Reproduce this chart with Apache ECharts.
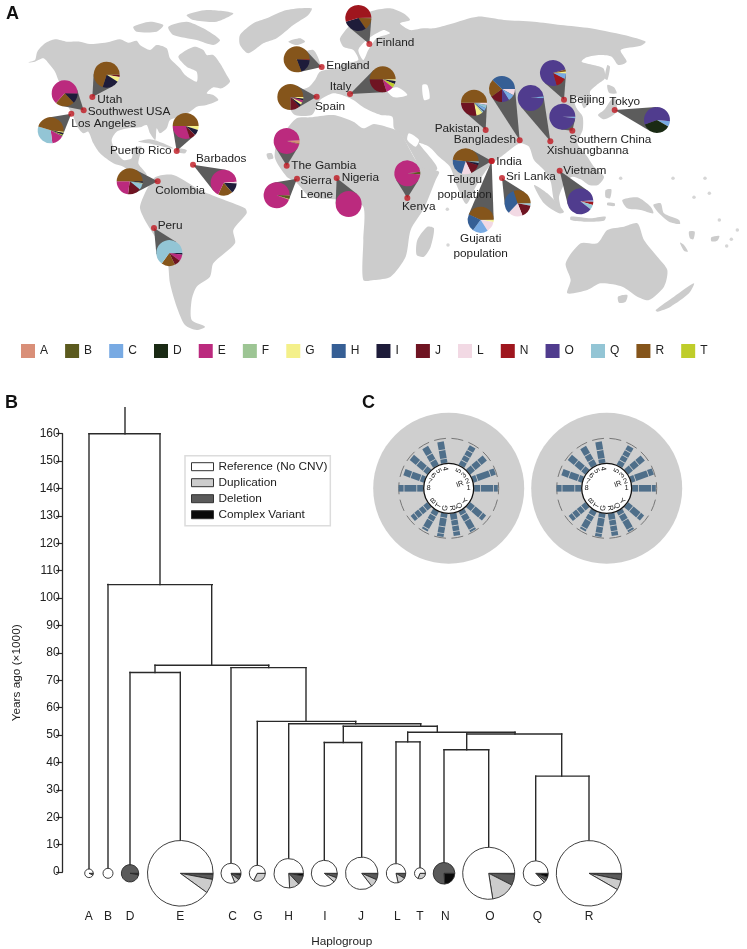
<!DOCTYPE html>
<html><head><meta charset="utf-8">
<style>html,body{margin:0;padding:0;background:#fff}#c{width:747px;height:949px}</style>
<script src="https://cdn.jsdelivr.net/npm/echarts@6/dist/echarts.min.js"></script>
</head><body><div id="c"></div>
<script>
// ---------- haplogroups ----------
const haplogroups = ['A','B','C','D','E','F','G','H','I','J','L','N','O','Q','R','T'];
const haploColors = ['#d98f78','#5b5a1e','#78aae3','#1a2a14','#bb2a7e','#9dc594','#f4f08a','#365f95','#1e1c3a','#6f1422','#f2d9e4','#9f161e','#503c8e','#93c5d5','#85551b','#bfcd2a'];

// ---------- panel A: population haplogroup shares (%), in drawn order ----------
const utah = [['J',3],['G',6],['I',21],['R',70]];
const southwestUsa = [['I',12.5],['R',24],['E',63.5]];
const losAngeles = [['G',2],['I',2],['T',1.5],['I',1],['E',15],['Q',32],['R',46.5]];
const puertoRico = [['G',5],['I',7],['J',8],['E',30],['R',50]];
const barbados = [['I',13],['R',18],['E',67],['L',2]];
const colombia = [['I',2],['G',1],['Q',8],['J',16],['E',23],['R',50]];
const peru = [['I',2],['E',8],['J',8],['R',17],['Q',65]];
const england = [['N',1],['I',18],['R',81]];
const finland = [['J',1],['R',15],['I',30],['N',54]];
const spain = [['G',2],['I',2],['E',3],['G',3],['I',3],['J',12],['R',75]];
const italy = [['G',2],['I',4],['T',5],['E',9],['J',30],['R',50]];
const gambia = [['A',4],['R',1],['E',95]];
const sierraLeone = [['A',1],['B',4],['G',1],['E',94]];
const nigeria = [['E',100]];
const kenya = [['B',3.5],['E',96.5]];
const pakistan = [['L',3],['Q',4],['C',4],['I',1],['Q',2],['G',8],['J',28],['R',50]];
const bangladesh = [['L',8],['C',8],['O',9],['J',15],['R',22],['H',38]];
const xishuangbanna = [['C',2.5],['O',97.5]];
const beijing = [['G',2.5],['C',7],['N',13],['O',75],['R',2.5]];
const southernChina = [['C',2],['O',98]];
const tokyo = [['C',7],['D',36],['O',57]];
const telugu = [['Q',2],['I',3],['J',13],['L',12],['H',22],['R',48]];
const gujarati = [['T',1],['G',2],['L',13],['C',19],['H',22],['R',43]];
const sriLanka = [['Q',3],['J',16],['L',18],['H',33],['R',30]];
const vietnam = [['C',2],['N',4],['Q',6],['O',88]];

// ---------- panel A: layout in map units (3 units = 1 px) ----------
const places = [
 {t:'Utah',d:[277,291],p:[320,224],l:[292,298],s:0,v:utah},
 {t:'Southwest USA',d:[251,331],p:[194,280],l:[263,335],s:1,v:southwestUsa},
 {t:'Los Angeles',d:[214,341],p:[152,391],l:[214,372],s:5,v:losAngeles},
 {t:'Puerto Rico',d:[530,453],p:[557,378],l:[330,451],s:0,v:puertoRico},
 {t:'Barbados',d:[579,494],p:[671,548],l:[588,475],s:3,v:barbados},
 {t:'Colombia',d:[473,544],p:[389,544],l:[466,573],s:0,v:colombia},
 {t:'Peru',d:[462,684],p:[508,759],l:[473,677],s:0,v:peru},
 {t:'England',d:[965,201],p:[890,178],l:[979,198],s:0,v:england},
 {t:'Finland',d:[1108,132],p:[1075,54],l:[1127,128],s:-2,v:finland},
 {t:'Spain',d:[950,290],p:[871,291],l:[945,320],s:0,v:spain},
 {t:'Italy',d:[1050,282],p:[1148,238],l:[989,260],s:0,v:italy},
 {t:'The Gambia',d:[860,497],p:[860,423],l:[874,496],s:-3,v:gambia},
 {t:'Sierra\nLeone',d:[891,536],p:[830,586],l:[901,563],s:-2,v:sierraLeone},
 {t:'Nigeria',d:[1010,534],p:[1046,612],l:[1025,533],s:0,v:nigeria},
 {t:'Kenya',d:[1222,594],p:[1222,520],l:[1206,620],s:-7,v:kenya},
 {t:'Pakistan',d:[1457,390],p:[1422,308],l:[1304,386],s:0,v:pakistan},
 {t:'Bangladesh',d:[1559,421],p:[1506,267],l:[1361,420],s:0,v:bangladesh},
 {t:'Xishuangbanna',d:[1651,424],p:[1592,294],l:[1640,452],s:-8,v:xishuangbanna},
 {t:'Beijing',d:[1692,299],p:[1659,219],l:[1708,298],s:-7,v:beijing},
 {t:'Southern China',d:[1717,392],p:[1687,350],l:[1708,418],s:0,v:southernChina},
 {t:'Tokyo',d:[1844,330],p:[1971,360],l:[1828,305],s:5,v:tokyo},
 {t:'India',d:[1475,483],p:[1397,484],l:[1489,484],s:0,v:telugu},
 {t:'',d:[1475,483],p:[1442,659],l:[0,0],s:0,v:gujarati},
 {t:'Sri Lanka',d:[1506,534],p:[1553,610],l:[1518,531],s:0,v:sriLanka},
 {t:'Vietnam',d:[1679,512],p:[1741,604],l:[1690,513],s:-5,v:vietnam}
];
const extraLabels = [
 {t:'Telugu\npopulation',l:[1394,562],c:1},
 {t:'Gujarati\npopulation',l:[1442,739],c:1}
];
const pieRadiusPx = 13;

// ---------- panel A: hand traced land, map units ----------
const z2 = pts => pts.map(q => [q[0]+1122, q[1]]);
const land = [
 // North America
 [[85,187],[105,180],[112,155],[135,130],[165,118],[200,125],[240,125],[270,132],[300,130],[330,125],[360,118],[385,128],[410,122],[420,135],[450,150],[470,135],[500,145],[510,175],[540,205],[555,225],[590,245],[590,215],[560,200],[535,170],[560,150],[585,140],[610,150],[620,165],[640,165],[660,190],[680,225],[690,245],[665,265],[640,262],[620,280],[640,285],[655,300],[620,315],[590,320],[570,335],[540,350],[510,360],[500,385],[480,400],[470,385],[466,420],[450,400],[440,375],[420,382],[385,385],[350,395],[335,420],[345,450],[370,480],[395,475],[400,445],[425,440],[415,490],[430,510],[440,525],[420,540],[395,520],[370,500],[340,490],[300,460],[280,430],[265,395],[250,400],[235,385],[220,350],[205,320],[195,285],[175,240],[165,215],[150,195],[130,175],[105,185]],
 // South America
 [[465,532],[520,525],[600,570],[660,595],[735,625],[740,640],[700,690],[705,730],[640,790],[630,830],[590,860],[575,900],[575,960],[615,980],[590,990],[555,975],[530,920],[510,850],[500,770],[440,670],[420,625],[430,590]],
 // Greenland and the Arctic islands
 [[720,105],[760,70],[800,55],[860,30],[935,25],[925,45],[880,75],[830,115],[790,130],[745,160],[720,135]],
 [[400,80],[450,65],[490,75],[470,95],[410,95]],
 [[505,80],[560,65],[610,85],[660,120],[640,135],[590,120],[520,105]],
 [[560,45],[620,30],[700,40],[650,65],[580,60]],
 // Caribbean, Iceland, Britain
 [[415,425],[450,418],[490,430],[520,445],[490,440],[445,430]],
 [[530,445],[560,450],[555,460],[530,455]],
 [[865,125],[900,115],[915,125],[890,135]],
 [[900,165],[940,150],[960,195],[925,205]],
 [[800,462],[815,460],[820,475],[805,478]],
 // Eurasia
 [[885,345],[868,320],[875,280],[925,262],[945,240],[960,215],[1005,205],[1040,190],[1075,180],[1060,150],[1030,140],[1020,115],[1060,65],[1110,35],[1170,25],[1210,40],[1230,60],[1200,70],[1230,90],[1270,85]].concat(z2([[180,85],[230,72],[310,50],[390,60],[480,65],[560,75],[650,85],[770,110],[815,125],[800,137],[740,150],[758,185],[733,195],[713,170],[678,165],[638,172],[623,185],[658,195],[688,205],[693,235],[668,255],[648,275],[650,300],[630,325],[616,295],[598,290],[608,325],[626,350],[626,390],[610,430],[640,470],[660,500],[690,530],[672,555],[645,555],[620,538],[595,530],[575,545],[555,590],[560,625],[540,600],[530,545],[510,510],[480,480],[465,440],[437,430],[395,460],[345,500],[305,560],[277,612],[250,560],[228,500],[195,470],[165,440],[135,430],[190,505],[145,530],[125,480],[85,410],[60,385],[55,350],[20,345]])).concat([[1095,325],[1060,300],[1040,290],[1000,280],[960,300],[950,320],[935,345]]),
 // Africa
 [[930,352],[1000,345],[1060,365],[1090,385],[1122,372]].concat(z2([[60,388],[80,400],[125,480],[150,505],[195,515],[185,540],[150,625],[110,690],[95,770],[50,830],[0,840]])).concat([[1090,840],[1090,720],[1090,620],[1040,600],[1010,598],[930,590],[890,548],[860,530],[825,475],[830,430],[850,400],[890,355]]),
 // Indian ocean, Asia pacific, Oceania
 z2([[160,680],[180,685],[170,740],[150,770],[128,765],[130,720]]),
 z2([[480,555],[520,580],[570,635],[555,640],[510,610]]),
 z2([[590,650],[650,655],[695,650],[690,662],[630,665],[590,660]]),
 z2([[695,570],[712,568],[708,595],[695,592]]),
 z2([[700,608],[722,610],[722,618],[700,616]]),
 z2([[745,600],[790,592],[830,620],[838,640],[800,630],[760,625]]),
 z2([[838,615],[860,610],[870,640],[915,660],[918,672],[885,665],[855,640]]),
 z2([[700,255],[720,262],[728,280],[705,278]]),
 z2([[720,290],[728,335],[690,358],[672,345],[690,330]]),
 z2([[700,195],[708,200],[700,240],[692,235]]),
 z2([[575,790],[620,730],[670,730],[700,690],[750,680],[790,670],[810,720],[850,770],[880,810],[870,860],[825,900],[790,890],[745,860],[680,850],[640,870],[580,880],[590,840]]),
 z2([[732,890],[760,885],[755,905],[735,908]]),
 z2([[845,930],[900,890],[960,850],[945,880],[890,920],[850,935]]),
 z2([[945,695],[962,695],[958,718],[948,715]]),
 z2([[1012,712],[1036,708],[1030,722],[1012,724]]),
 z2([[918,728],[930,735],[942,755],[930,752]])
];
const islandDots = z2([[740,535],[897,535],[993,535],[960,592],[1006,580],[1036,660],[1090,690],[1072,718],[1058,738],[220,628],[222,735]]);
const seas = [
 z2([[145,255],[160,255],[167,295],[150,300]]),
 z2([[105,400],[135,420],[125,440],[100,420]]),
 z2([[40,272],[70,262],[100,285],[60,292]]),
 [[1075,150],[1100,120],[1150,90],[1170,100],[1130,115],[1105,150],[1090,180]]
];

// ---------- panel B: tree ----------
const tipNames = ['A','B','D','E','C','G','H','I','J','L','T','N','O','Q','R'];
const tipX = [89,108,130,180.3,231,257.3,288.7,324.3,361.7,396,420,444,488.7,535.7,589];
const tipLabelX = [88.7,108,130,180.3,232.7,258,288.7,325,361,397.3,420,445.3,490,537.3,589];
const tipParentAge = [160,105,72.8,72.8,74.6,55,54.1,47.3,47.3,47.5,47.5,44.6,44.6,35,35];
const tipRadius = [4.3,5,8.7,32.8,10,8,14.7,13,16.2,9.7,5.5,10.8,26,12.5,32.7];
const cnvKinds = ['Complex Variant','Deletion','Duplication','Reference (No CNV)'];
const cnvLegendOrder = ['Reference (No CNV)','Duplication','Deletion','Complex Variant'];
const cnvColors = ['#0a0a0a','#5a5a5a','#cccccc','#ffffff'];
const cnvA = [0,2,5,93];
const cnvB = [0,0,0,100];
const cnvD = [3,97,0,0];
const cnvE = [0.5,2.5,7,90];
const cnvC = [3,8,8,81];
const cnvG = [0,0.5,32,67.5];
const cnvH = [3,10,11,76];
const cnvI = [0.5,5,6,88.5];
const cnvJ = [0.5,6,8,85.5];
const cnvL = [0.5,8,13,78.5];
const cnvT = [0,1,30,69];
const cnvN = [24,76,0,0];
const cnvO = [0.5,7,15,77.5];
const cnvQ = [5,5,3,87];
const cnvR = [0.3,3,5,91.7];
const tipCnv = [cnvA,cnvB,cnvD,cnvE,cnvC,cnvG,cnvH,cnvI,cnvJ,cnvL,cnvT,cnvN,cnvO,cnvQ,cnvR];
const cladeAge =   [160,104.9,75.5,72.8,74.6,55,54.1,53.2,47.3,51,47.5,44.6,50.4,35];
const cladeLeft =  [89,107.7,155,130,231,257.3,288.7,343.3,324.3,407.7,396,444,466.7,535.7];
const cladeRight = [160,212.3,268.7,180.3,306,355.7,420.7,437.3,361.7,515,420,488.7,561.7,589];
const cladeStem =  [125,160,211.7,155,268.7,306,355.7,420.7,343.3,437.3,407.7,466.7,515,561.7];
const cladeParent = [169.5,160,104.9,75.5,75.5,74.6,55,54.1,53.2,53.2,51,50.4,51,50.4];
const yTicks = {min:0,max:160,step:10};

// ---------- panel C: gene copy rings ----------
const ringAngles = [0,340,320,300,260,240,220,200,180,140,120,100,80,60,40];
const ringLabels = ['1','2','3','5','4','5','6','7','8','B','T','G','R','Q','Y'];
const ringSegments = [[6,12,4],[4,13,5],[6,7,7],[5,5,5,5],[4,8,8],[6,6,8],[5,8,8],[4,9,7],[6,12,5],[5,5,5,4],[5,5,8,2],[4,8,6,3],[6,5,5,4],[4,6,9,2],[6,9,4]];
const ringArcCentres = [0,20,40,60,80,100,120,140,160,180,200,220,240,260,280,300,320,340];

// ---------- helpers ----------
const colorOf = n => haploColors[haplogroups.indexOf(n)];
const FONT = '"Liberation Sans",Arial,sans-serif';
const INK = '#222';
const pieBase = {type:'pie',silent:true,animation:false,label:{show:false},labelLine:{show:false},emphasis:{disabled:true},z:3};

const series = [];
const mapGrid = {xAxisIndex:0,yAxisIndex:0};
function polyItem(pts,api,fill){
  return {type:'polygon',shape:{points:pts.map(q=>api.coord(q)),smooth:0.25},style:{fill:fill,stroke:null}};
}
series.push(Object.assign({type:'custom',coordinateSystem:'cartesian2d',silent:true,animation:false,z:1,clip:false,
  data:land.map((_,i)=>[i,0]),renderItem:(p,api)=>polyItem(land[p.dataIndex],api,'#cccccc')},mapGrid));
series.push(Object.assign({type:'custom',coordinateSystem:'cartesian2d',silent:true,animation:false,z:1,clip:false,
  data:seas.map((_,i)=>[i,0]),renderItem:(p,api)=>polyItem(seas[p.dataIndex],api,'#ffffff')},mapGrid));
series.push(Object.assign({type:'scatter',silent:true,animation:false,z:1,symbolSize:3.5,itemStyle:{color:'#cccccc'},data:islandDots},mapGrid));
// wedges
series.push(Object.assign({type:'custom',coordinateSystem:'cartesian2d',silent:true,animation:false,z:2,clip:false,
  data:places.map((_,i)=>[i,0]),
  renderItem:(p,api)=>{
    const c=places[p.dataIndex],D=api.coord(c.d),C=api.coord(c.p);
    const dx=C[0]-D[0],dy=C[1]-D[1],dist=Math.hypot(dx,dy),base=Math.atan2(dy,dx),a=Math.asin(Math.min(1,pieRadiusPx/dist));
    const t=Math.sqrt(Math.max(0,dist*dist-pieRadiusPx*pieRadiusPx));
    return {type:'polygon',shape:{points:[D,[D[0]+t*Math.cos(base+a),D[1]+t*Math.sin(base+a)],C,[D[0]+t*Math.cos(base-a),D[1]+t*Math.sin(base-a)]]},style:{fill:'#5c5c5c',stroke:null}};
  }},mapGrid));
// population pies
places.forEach(c=>{
  series.push(Object.assign({},pieBase,{radius:[0,pieRadiusPx],center:[c.p[0]/3,c.p[1]/3],startAngle:-c.s,clockwise:true,
    data:c.v.map(([n,v])=>({name:n,value:v,itemStyle:{color:colorOf(n)}}))}));
});
// legend carrier for the colour key
series.push(Object.assign({},pieBase,{radius:[0,0],center:[-20,-20],
  data:haplogroups.map((n,i)=>({name:n,value:1,itemStyle:{color:haploColors[i]}}))}));
// dots
series.push(Object.assign({type:'scatter',silent:true,animation:false,z:5,symbolSize:6,itemStyle:{color:'#bf1820'},data:places.map(c=>c.d)},mapGrid));
// labels
const allLabels = places.filter(c=>c.t).map(c=>({t:c.t,l:c.l,c:0})).concat(extraLabels);
series.push(Object.assign({type:'custom',coordinateSystem:'cartesian2d',silent:true,animation:false,z:6,clip:false,
  data:allLabels.map((_,i)=>[i,0]),
  renderItem:(p,api)=>{
    const c=allLabels[p.dataIndex],q=api.coord(c.l);
    return {type:'text',style:{x:q[0],y:q[1],text:c.t,fill:INK,font:'11.8px '+FONT,align:c.c?'center':'left',verticalAlign:'middle',lineHeight:14.5}};
  }},mapGrid));

// panel B tree
const segs=[];
cladeAge.forEach((a,i)=>{segs.push([cladeLeft[i],a,cladeRight[i],a]);segs.push([cladeStem[i],a,cladeStem[i],cladeParent[i]]);});
tipX.forEach((x,i)=>segs.push([x,0,x,tipParentAge[i]]));
series.push({type:'custom',coordinateSystem:'cartesian2d',xAxisIndex:1,yAxisIndex:1,silent:true,animation:false,z:2,clip:false,
  data:segs.map((_,i)=>[i,0]),
  renderItem:(p,api)=>{
    const s=segs[p.dataIndex],a=api.coord([s[0],s[1]]),b=api.coord([s[2],s[3]]);
    return {type:'line',shape:{x1:a[0],y1:a[1],x2:b[0],y2:b[1]},style:{stroke:'#2a2a2a',lineWidth:1.4,lineCap:'square'}};
  }});
const tipCenterY = 873.3;
tipNames.forEach((n,i)=>{
  series.push(Object.assign({},pieBase,{radius:[0,tipRadius[i]],center:[tipX[i],tipCenterY],startAngle:0,clockwise:true,z:4,
    itemStyle:{borderColor:'#2a2a2a',borderWidth:0.9},
    data:cnvKinds.map((k,j)=>({name:k,value:tipCnv[i][j],itemStyle:{color:cnvColors[j]}})).filter(d=>d.value>0)}));
});
series.push(Object.assign({},pieBase,{radius:[0,0],center:[-20,-20],
  data:cnvKinds.map((k,j)=>({name:k,value:1,itemStyle:{color:cnvColors[j],borderColor:'#333',borderWidth:1}}))}));
series.push({type:'custom',coordinateSystem:'cartesian2d',xAxisIndex:1,yAxisIndex:1,silent:true,animation:false,z:5,clip:false,
  data:tipNames.map((_,i)=>[i,0]),
  renderItem:(p,api)=>{
    const q=api.coord([tipLabelX[p.dataIndex],0]);
    return {type:'text',style:{x:q[0],y:q[1]+44.4,text:tipNames[p.dataIndex],fill:INK,font:'12px '+FONT,align:'center',verticalAlign:'middle'}};
  }});

// panel C rings
[0,1].forEach(ix=>{
  const base={type:'custom',coordinateSystem:'polar',polarIndex:ix,silent:true,animation:false,clip:false};
  series.push(Object.assign({},base,{z:2,data:[[0,0]],renderItem:(p,api)=>{
    const c=api.coord([0,0]),e=api.coord([75.5,0]),r=Math.hypot(e[0]-c[0],e[1]-c[1]);
    return {type:'circle',shape:{cx:c[0],cy:c[1],r:r},style:{fill:'#cfcfcf'}};
  }}));
  series.push(Object.assign({},base,{z:3,data:ringArcCentres.map((a,i)=>[50,a]),renderItem:(p,api)=>{
    const c=api.coord([0,0]),a=ringArcCentres[p.dataIndex]*Math.PI/180;
    return {type:'arc',shape:{cx:c[0],cy:c[1],r:50,startAngle:a-0.12,endAngle:a+0.12,clockwise:true},style:{stroke:'#777',lineWidth:1,fill:null}};
  }}));
  const bars=[];
  ringSegments.forEach((seg,b)=>{let r=25.5;seg.forEach(len=>{bars.push([b,r,r+len]);r+=len+0.8;});});
  series.push(Object.assign({},base,{z:4,data:bars.map((_,i)=>[30,i]),renderItem:(p,api)=>{
    const s=bars[p.dataIndex],ang=ringAngles[s[0]],hw=3.3;
    const c=api.coord([0,0]),t=ang*Math.PI/180,ux=Math.cos(t),uy=Math.sin(t),nx=-uy,ny=ux;
    const P=(r,w)=>[c[0]+ux*r+nx*w,c[1]+uy*r+ny*w];
    return {type:'polygon',shape:{points:[P(s[1],-hw),P(s[2],-hw),P(s[2],hw),P(s[1],hw)]},style:{fill:'#4f6f8a',stroke:null}};
  }}));
  series.push(Object.assign({},base,{z:5,data:[[0,0]],renderItem:(p,api)=>{
    const c=api.coord([0,0]);
    return {type:'circle',shape:{cx:c[0],cy:c[1],r:25},style:{fill:'#fff',stroke:'#111',lineWidth:1.3}};
  }}));
  series.push(Object.assign({},base,{z:6,data:ringLabels.map((_,i)=>[20,i]),renderItem:(p,api)=>{
    const i=p.dataIndex,c=api.coord([0,0]),ang=ringAngles[i],t=ang*Math.PI/180;
    const flip=ang>90&&ang<270;
    return {type:'text',x:c[0]+Math.cos(t)*20,y:c[1]+Math.sin(t)*20,rotation:-(flip?t-Math.PI:t),style:{text:ringLabels[i],fill:'#222',font:'7.5px '+FONT,align:'center',verticalAlign:'middle'}};
  }}));
  series.push(Object.assign({},base,{z:6,data:[[12,340]],renderItem:(p,api)=>{
    const c=api.coord([0,0]),t=340*Math.PI/180;
    return {type:'text',x:c[0]+Math.cos(t)*12,y:c[1]+Math.sin(t)*12,rotation:-t,style:{text:'IR',fill:'#222',font:'7.5px '+FONT,align:'center',verticalAlign:'middle'}};
  }}));
});

const hidden={show:false};
const letter={fontSize:18,fontWeight:'bold',color:'#111',fontFamily:FONT};
const option={
  animation:false,backgroundColor:'#fff',
  textStyle:{fontFamily:FONT},
  title:[
    {text:'A',left:1,top:0,textStyle:letter},
    {text:'B',left:0,top:389,textStyle:letter},
    {text:'C',left:357,top:389,textStyle:letter}
  ],
  grid:[
    {left:0,top:0,width:747,height:340},
    {left:62.7,top:433.7,width:558,height:439.6}
  ],
  xAxis:[
    {gridIndex:0,type:'value',min:0,max:2241,show:false},
    {gridIndex:1,type:'value',min:62.7,max:620.7,name:'Haplogroup',nameLocation:'middle',nameGap:64,
     nameTextStyle:{fontSize:11.8,color:INK,fontFamily:FONT},axisLine:hidden,axisTick:hidden,axisLabel:hidden,splitLine:hidden}
  ],
  yAxis:[
    {gridIndex:0,type:'value',min:0,max:1020,inverse:true,show:false},
    {gridIndex:1,type:'value',min:yTicks.min,max:yTicks.max,interval:yTicks.step,name:'Years ago (×1000)',nameLocation:'middle',nameGap:40,
     nameTextStyle:{fontSize:11.8,color:INK,fontFamily:FONT,padding:[0,40,0,0]},
     axisLine:{show:true,lineStyle:{color:'#2a2a2a',width:1.3}},axisTick:{show:true,length:6.5,lineStyle:{color:'#2a2a2a',width:1.2}},
     axisLabel:{fontSize:12,color:INK,margin:3,fontFamily:FONT,hideOverlap:false,showMinLabel:true,showMaxLabel:true},splitLine:hidden}
  ],
  polar:[{center:[448.7,488.3],radius:75.5},{center:[606.7,488.3],radius:75.5}],
  angleAxis:[0,1].map(i=>({polarIndex:i,type:'value',min:0,max:360,startAngle:0,clockwise:true,show:false})),
  radiusAxis:[0,1].map(i=>({polarIndex:i,type:'value',min:0,max:75.5,show:false})),
  legend:[
    {data:haplogroups,left:16,top:343,padding:[1,5],itemWidth:14,itemHeight:14,itemGap:17.1,icon:'rect',selectedMode:false,
     textStyle:{fontSize:12,color:INK,width:10.5,fontFamily:FONT},itemStyle:{borderWidth:0}},
    {data:cnvLegendOrder,
     orient:'vertical',left:185,top:455.7,padding:[5,3,5,6],itemWidth:22,itemHeight:8,itemGap:4,icon:'rect',selectedMode:false,
     borderColor:'#dcdcdc',borderWidth:1.5,textStyle:{fontSize:11.8,color:INK,fontFamily:FONT},itemStyle:{borderColor:'#333',borderWidth:1}}
  ],
  series:series
};
const chart=echarts.init(document.getElementById('c'),null,{renderer:'canvas',width:747,height:949});
chart.setOption(option);
</script></body></html>
